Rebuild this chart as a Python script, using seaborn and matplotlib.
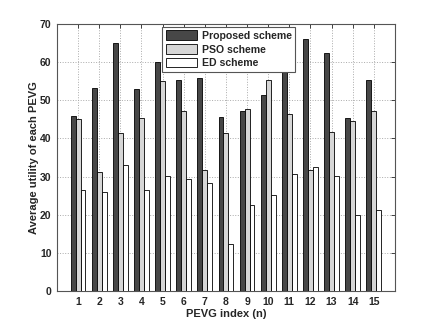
import matplotlib
matplotlib.use("Agg")
import matplotlib.pyplot as plt
import pandas as pd
import seaborn as sns

# values
pevg_index = list(range(1, 16))
proposed = [46.0, 53.2, 65.0, 52.9, 60.0, 55.2, 55.9, 45.5, 47.2, 51.5, 60.0, 66.1, 62.5, 45.3, 55.4]
pso = [45.1, 31.1, 41.4, 45.4, 55.1, 47.2, 31.6, 41.3, 47.8, 55.2, 46.5, 31.8, 41.6, 44.5, 47.2]
ed = [26.4, 25.9, 33.0, 26.4, 30.1, 29.4, 28.3, 12.4, 22.6, 25.1, 30.6, 32.5, 30.1, 19.9, 21.2]
scheme_names = ["Proposed scheme", "PSO scheme", "ED scheme"]

sns.set_theme(style="white")
plt.rcParams["font.family"] = ["Liberation Sans", "DejaVu Sans"]
plt.rcParams["font.weight"] = "bold"

df = pd.DataFrame({
    "idx": pevg_index * 3,
    "value": proposed + pso + ed,
    "scheme": [scheme_names[0]] * 15 + [scheme_names[1]] * 15 + [scheme_names[2]] * 15,
})

fig = plt.figure(figsize=(4.36, 3.28), dpi=100)
ax = fig.add_axes([0.1307, 0.1128, 0.775, 0.814])

palette = {scheme_names[0]: "#474747", scheme_names[1]: "#d6d6d6", scheme_names[2]: "#ffffff"}
sns.barplot(
    data=df, x="idx", y="value", hue="scheme", palette=palette,
    width=0.7, edgecolor="black", linewidth=0.6, saturation=1,
    ax=ax, zorder=3,
)

ax.set_xlim(-1, 15)
ax.set_ylim(0, 70)
ax.set_yticks(range(0, 71, 10))
ax.set_xticks(range(15))
ax.set_xticklabels([str(i) for i in pevg_index])
ax.tick_params(axis="both", labelsize=7.5, direction="in", length=3, width=0.6,
               top=True, right=True, pad=4)
ax.grid(True, linestyle=":", color="#aaaaaa", linewidth=0.7, zorder=0)
ax.set_axisbelow(True)
for sp in ax.spines.values():
    sp.set_visible(True)
    sp.set_color("#555555")
    sp.set_linewidth(0.8)

ax.set_xlabel("PEVG index (n)", fontsize=8, fontweight="bold", labelpad=2)
ax.set_ylabel("Average utility of each PEVG", fontsize=8, fontweight="bold", labelpad=0.5)

leg = ax.legend(loc="upper left", bbox_to_anchor=(0.311, 0.99), fontsize=7.6,
                frameon=True, fancybox=False, edgecolor="#555555",
                handlelength=3.0, handleheight=1.05, borderpad=0.35,
                labelspacing=0.3, handletextpad=0.4, borderaxespad=0)
leg.get_frame().set_linewidth(0.8)
leg.get_frame().set_alpha(1)
leg.set_zorder(10)

fig.savefig("out.png", dpi=100)
